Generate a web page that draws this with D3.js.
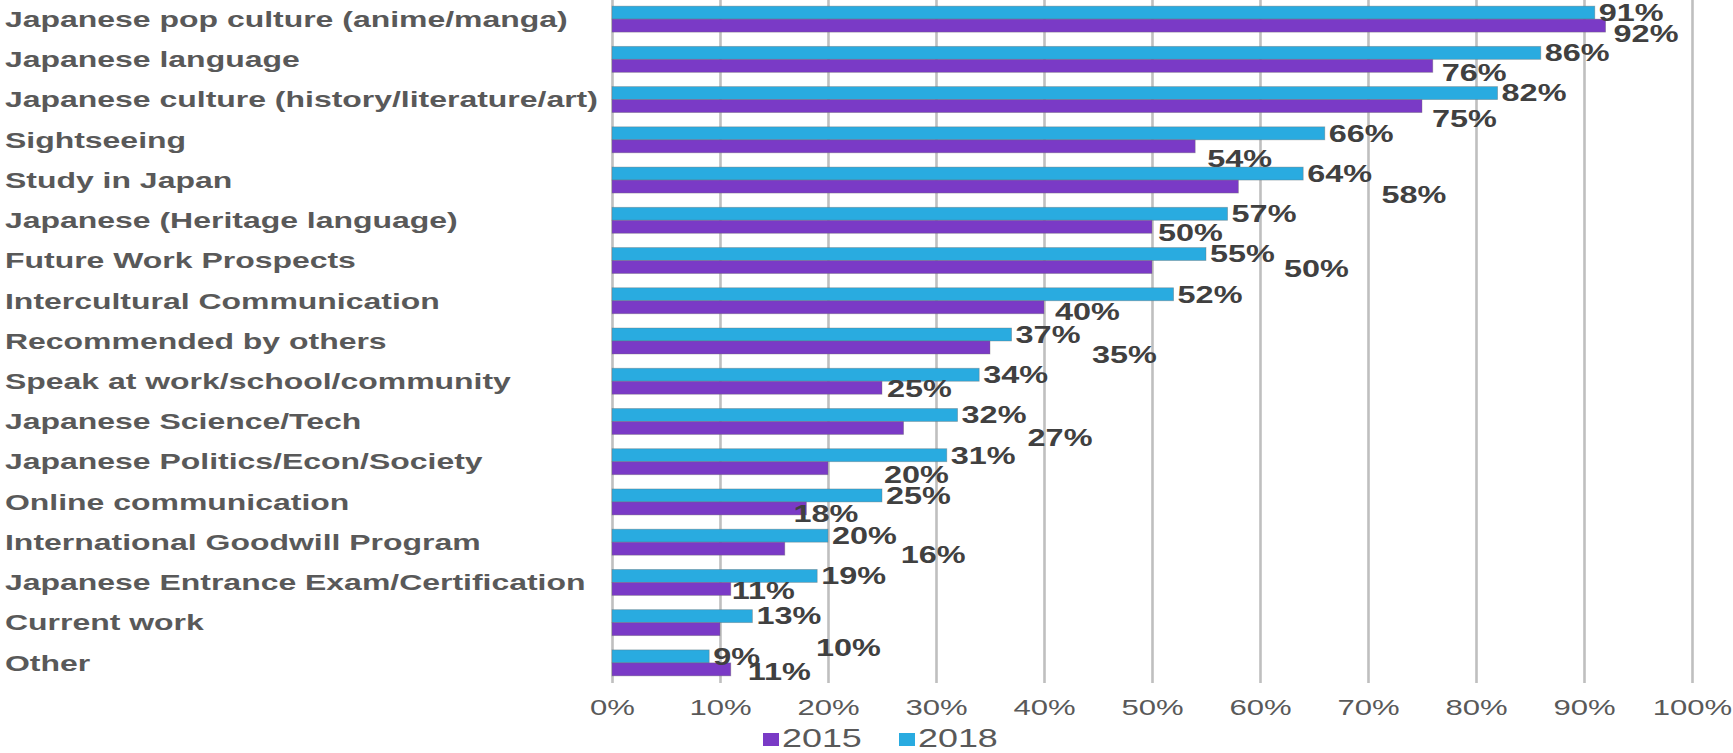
<!DOCTYPE html>
<html>
<head>
<meta charset="utf-8">
<script src="https://cdn.jsdelivr.net/npm/d3@7"></script>
<style>
  html, body { margin: 0; padding: 0; background: #ffffff; }
  svg { display: block; }
  text { font-family: "Liberation Sans", Arial, sans-serif; }
</style>
</head>
<body>
<svg id="chart" width="1733" height="753"></svg>
<script>
const categories = [
  "Japanese pop culture (anime/manga)",
  "Japanese language",
  "Japanese culture (history/literature/art)",
  "Sightseeing",
  "Study in Japan",
  "Japanese (Heritage language)",
  "Future Work Prospects",
  "Intercultural Communication",
  "Recommended by others",
  "Speak at work/school/community",
  "Japanese Science/Tech",
  "Japanese Politics/Econ/Society",
  "Online communication",
  "International Goodwill Program",
  "Japanese Entrance Exam/Certification",
  "Current work",
  "Other"
];
const values2015 = [92, 76, 75, 54, 58, 50, 50, 40, 35, 25, 27, 20, 18, 16, 11, 10, 11];
const values2018 = [91, 86, 82, 66, 64, 57, 55, 52, 37, 34, 32, 31, 25, 20, 19, 13, 9];
const tickValues = [0, 10, 20, 30, 40, 50, 60, 70, 80, 90, 100];
const seriesNames = ["2015", "2018"];
// manual label nudges (px) for the 2015 data labels, as dragged in the original
const labelNudge2015 = [
  [8, 8.5], [9, 7], [10, 13], [12, 12], [143, 8.5], [6, 6], [132, 2], [11, 4],
  [102, 7.5], [5, 1], [124, 10], [56, 6.5], [-13, 5], [116, 6], [1, 2], [96, 18.5], [17, 2]
];

const colors = { "2015": "#7A3AC6", "2018": "#29ABE0" };
const SX = 1.38;           // horizontal stretch of the original picture
const SX_CAT = 1.42;
const svg = d3.select("#chart");

const x = d3.scaleLinear().domain([0, 100]).range([612, 1692]);
const y = d3.scaleBand().domain(categories).range([-1, 683])
  .paddingInner(0.354).paddingOuter(0.177);
const sub = d3.scaleBand().domain(["2018", "2015"]).range([0, y.bandwidth()]);

// gridlines + tick labels
const axis = d3.axisBottom(x).tickValues(tickValues)
  .tickFormat(d => d + "%").tickSize(-684).tickPadding(0);
const gAxis = svg.append("g").attr("transform", "translate(0,683)").call(axis);
gAxis.select(".domain").remove();
gAxis.selectAll(".tick line").attr("stroke", "#BFBFBF").attr("stroke-width", 2.6);
gAxis.selectAll(".tick text")
  .attr("y", 24).attr("dy", "0.35em")
  .attr("transform", `scale(${SX},1)`)
  .attr("fill", "#595959")
  .style("font-size", "22.5px")
  .style("font-family", "'Liberation Sans', Arial, sans-serif");

// bars
const rows = categories.map((c, i) => ({ c, i, v2015: values2015[i], v2018: values2018[i] }));
const gRows = svg.append("g").selectAll("g").data(rows).join("g")
  .attr("transform", d => `translate(0,${y(d.c)})`);

gRows.append("rect")
  .attr("x", x(0)).attr("y", sub("2018"))
  .attr("width", d => x(d.v2018) - x(0)).attr("height", sub.bandwidth())
  .attr("fill", colors["2018"])
  .attr("stroke", "rgba(110,110,110,0.45)").attr("stroke-width", 0.8);

gRows.append("rect")
  .attr("x", x(0)).attr("y", sub("2015"))
  .attr("width", d => x(d.v2015) - x(0)).attr("height", sub.bandwidth())
  .attr("fill", colors["2015"])
  .attr("stroke", "rgba(110,110,110,0.45)").attr("stroke-width", 0.8);

// data labels
function stretchedText(sel, size, weight, fill) {
  return sel.attr("fill", fill).style("font-size", size + "px").style("font-weight", weight);
}
stretchedText(gRows.append("text")
  .attr("transform", d => `translate(${x(d.v2018) + 4},${sub("2018") + sub.bandwidth() / 2}) scale(${SX},1)`)
  .attr("dominant-baseline", "central")
  .text(d => d.v2018 + "%"), 23.5, "bold", "#404040");

stretchedText(gRows.append("text")
  .attr("transform", d => `translate(${x(d.v2015) + labelNudge2015[d.i][0]},${sub("2015") + sub.bandwidth() / 2 + labelNudge2015[d.i][1]}) scale(${SX},1)`)
  .attr("dominant-baseline", "central")
  .text(d => d.v2015 + "%"), 23.5, "bold", "#404040");

// category labels
stretchedText(gRows.append("text")
  .attr("transform", d => `translate(5,${y.bandwidth() / 2}) scale(${SX_CAT},1)`)
  .attr("dominant-baseline", "central")
  .text(d => d.c), 22.5, "bold", "#595959");

// legend
const legendItems = [
  { name: "2015", rx: 763, tx: 782 },
  { name: "2018", rx: 899, tx: 918 }
];
const gLeg = svg.append("g").selectAll("g").data(legendItems).join("g");
gLeg.append("rect").attr("x", d => d.rx).attr("y", 733).attr("width", 16).attr("height", 13)
  .attr("fill", d => colors[d.name]);
stretchedText(gLeg.append("text")
  .attr("transform", d => `translate(${d.tx},738) scale(${SX},1)`)
  .attr("dominant-baseline", "central")
  .text(d => d.name), 26, "normal", "#595959");
</script>
</body>
</html>
